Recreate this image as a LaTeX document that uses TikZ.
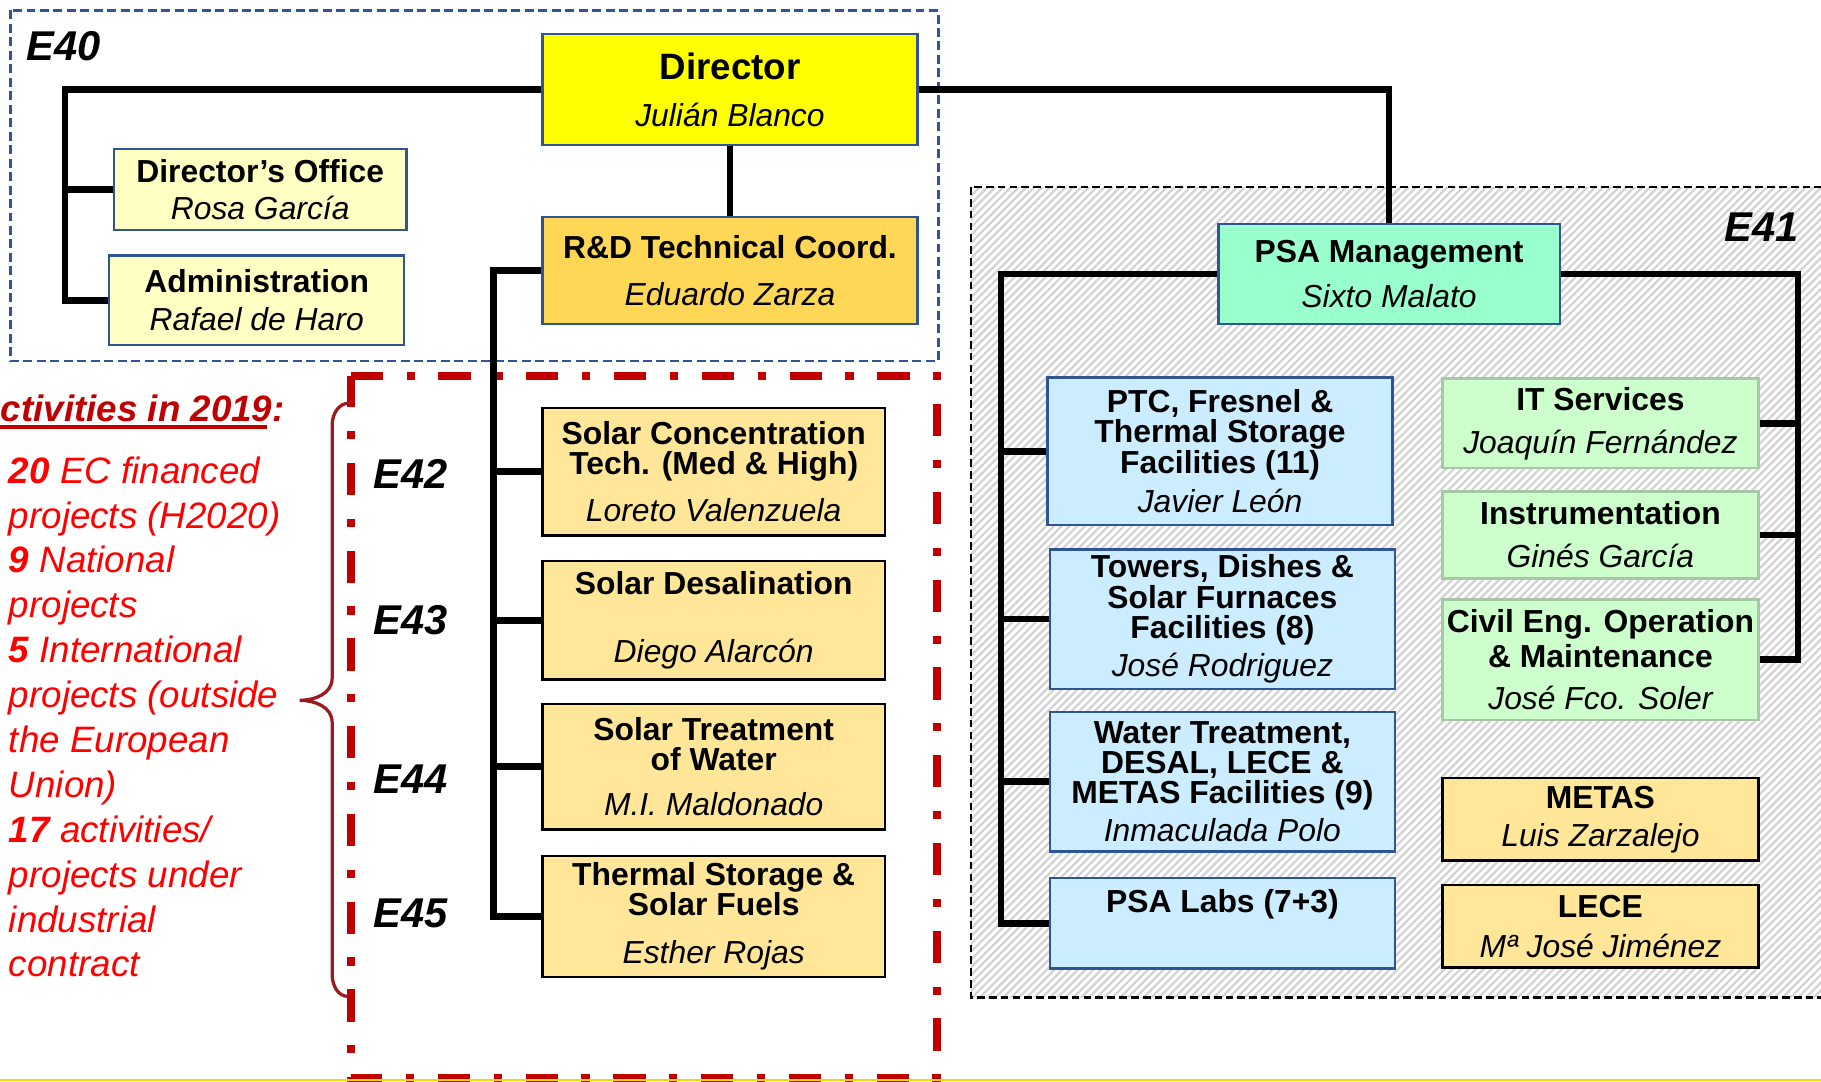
\documentclass[tikz,border=0pt]{standalone}
\usepackage{fontspec}
\setmainfont{Liberation Sans}
\usepackage{xcolor}
\usepackage{tikz}
\usetikzlibrary{calc, patterns.meta}

\definecolor{dirfill}{HTML}{FFFF00}
\definecolor{officefill}{HTML}{FFFFC4}
\definecolor{coordfill}{HTML}{FFD757}
\definecolor{mgmtfill}{HTML}{99FFCC}
\definecolor{unitfill}{HTML}{FFE699}
\definecolor{facfill}{HTML}{CCECFF}
\definecolor{servfill}{HTML}{CCFFCC}
\definecolor{servedge}{HTML}{A6C8A6}
\definecolor{frameblue}{HTML}{2F5597}
\definecolor{framered}{HTML}{C00000}
\definecolor{bracered}{HTML}{9B1C20}
\definecolor{bottomline}{HTML}{FFD600}

\newcommand{\staff}[1]{{\mdseries\itshape #1}}

\begin{document}
\begin{tikzpicture}[
    box/.style={draw=frameblue, line width=0.6pt, anchor=north west, align=center,
        inner sep=0pt, font=\fontsize{7.8}{7.4}\selectfont\bfseries},
    unitbox/.style={box, draw=black, fill=unitfill},
    facbox/.style={box, fill=facfill, minimum width=2.97cm},
    servbox/.style={box, draw=servedge, fill=servfill, minimum width=2.72cm},
    link/.style={line width=1.6pt},
    elabel/.style={anchor=base west, inner sep=0pt, font=\fontsize{10.2}{12}\selectfont\bfseries\itshape},
    actline/.style={anchor=base west, inner sep=0pt, text=red, font=\fontsize{9}{11}\selectfont\itshape}
]
    \useasboundingbox (0,0) rectangle (15.68,-9.31);
    \clip (0,0) rectangle (15.68,-9.31);

    % 1. Frames E40, E41 and the red one
    \draw[line width=0.6pt, dash pattern=on 1.9pt off 1.0pt,
        pattern={Lines[angle=45, distance=1.35pt, line width=0.55pt]}, pattern color=gray!35]
        (8.36,-1.61) rectangle (15.90,-8.59);
    \draw[frameblue, line width=0.6pt, dash pattern=on 2.2pt off 1.1pt]
        (0.09,-0.09) rectangle (8.08,-3.11);
    \draw[framered, line width=2pt, dash pattern=on 7.9pt off 5.8pt on 2pt off 5.8pt]
        (3.02,-3.24) -- (8.07,-3.24) -- (8.07,-9.28) -- (3.02,-9.28) -- cycle;
    \draw[bottomline, line width=0.4pt] (0,-9.30) -- (15.68,-9.30);

    \node[elabel] (e40) at (0.22,-0.525) {E40};
    \node[elabel] (e41) at (14.84,-2.075) {E41};
    \foreach \n/\y in {42/4.21, 43/5.46, 44/6.83, 45/7.99}
        \node[elabel] (e\n) at (3.21,-\y) {E\n};

    % 2. Activities in 2019
    \node[anchor=base west, inner sep=0pt, text=framered, font=\fontsize{9}{11}\selectfont\bfseries\itshape]
        (acttitle) at (0,-3.63) {ctivities in 2019:};
    \draw[framered, line width=0.8pt] ([yshift=-1.3pt]acttitle.base west) -- ++(2.30,0);
    \foreach \txt [count=\i] in {{\textbf{20} EC financed}, projects (H2020), {\textbf{9} National},
            projects, {\textbf{5} International}, projects (outside, the European, Union),
            {\textbf{17} activities/}, projects under, industrial, contract}
        \node[actline] (act\i) at (0.07,{-4.16-0.3865*(\i-1)}) {\txt};
    \draw[bracered, line width=0.8pt] (3.01,-3.47) to[out=180,in=90] (2.86,-3.66)
        -- (2.86,-5.84) to[out=-90,in=0] (2.58,-6.03) to[out=0,in=90] (2.86,-6.22)
        -- (2.86,-8.39) to[out=-90,in=180] (3.00,-8.58);

    % 3. Direction (E40)
    \node[box, fill=dirfill, minimum width=3.23cm, minimum height=0.96cm] (director) at (4.66,-0.28)
        {{\fontsize{9}{7.4}\selectfont Director}\\[4.1pt]\staff{Julián Blanco}};
    \node[box, fill=officefill, minimum width=2.52cm, minimum height=0.70cm] (office) at (0.97,-1.27)
        {Director’s Office\\[1.7pt]\staff{Rosa García}};
    \node[box, fill=officefill, minimum width=2.54cm, minimum height=0.77cm] (admin) at (0.93,-2.19)
        {Administration\\[2pt]\staff{Rafael de Haro}};
    \node[box, fill=coordfill, minimum width=3.23cm, minimum height=0.92cm] (coord) at (4.66,-1.86)
        {R\&D Technical Coord.\\[4pt]\staff{Eduardo Zarza}};

    % 4. R&D units (E42 - E45)
    \node[unitbox, minimum width=2.95cm, minimum height=1.10cm] (solarconc) at (4.66,-3.50)
        {Solar Concentration\\Tech. (Med \& High)\\[4.3pt]\staff{Loreto Valenzuela}};
    \node[unitbox, minimum width=2.95cm, minimum height=1.02cm] (desal) at (4.66,-4.82)
        {Solar Desalination\\[9.4pt]\staff{Diego Alarcón}};
    \node[unitbox, minimum width=2.95cm, minimum height=1.08cm] (treat) at (4.66,-6.05)
        {Solar Treatment\\of Water\\[3.7pt]\staff{M.I. Maldonado}};
    \node[unitbox, minimum width=2.95cm, minimum height=1.04cm] (storage) at (4.66,-7.36)
        {Thermal Storage \&\\Solar Fuels\\[4.3pt]\staff{Esther Rojas}};

    % 5. PSA management (E41)
    \node[box, fill=mgmtfill, minimum width=2.94cm, minimum height=0.86cm] (psa) at (10.48,-1.92)
        {PSA Management\\[3.7pt]\staff{Sixto Malato}};
    \node[facbox, minimum height=1.27cm] (ptc) at (9.01,-3.24)
        {PTC, Fresnel \&\\Thermal Storage\\Facilities (11)\\[2.3pt]\staff{Javier León}};
    \node[facbox, minimum height=1.20cm] (towers) at (9.03,-4.72)
        {Towers, Dishes \&\\Solar Furnaces\\Facilities (8)\\[2pt]\staff{José Rodriguez}};
    \node[facbox, minimum height=1.20cm] (water) at (9.03,-6.12)
        {Water Treatment,\\DESAL, LECE \&\\METAS Facilities (9)\\[2pt]\staff{Inmaculada Polo}};
    \node[facbox, minimum height=0.78cm, text height=0.30cm, text depth=0.48cm] (labs) at (9.03,-7.55)
        {PSA Labs (7+3)};
    \node[servbox, minimum height=0.77cm] (itserv) at (12.41,-3.25)
        {IT Services\\[3.1pt]\staff{Joaquín Fernández}};
    \node[servbox, minimum height=0.75cm] (instr) at (12.41,-4.22)
        {Instrumentation\\[3.1pt]\staff{Ginés García}};
    \node[servbox, minimum height=1.04cm] (civil) at (12.41,-5.15)
        {Civil Eng. Operation\\[1.1pt]\& Maintenance\\[2.8pt]\staff{José Fco. Soler}};
    \node[unitbox, minimum width=2.72cm, minimum height=0.71cm] (metas) at (12.41,-6.69)
        {METAS\\[2pt]\staff{Luis Zarzalejo}};
    \node[unitbox, minimum width=2.72cm, minimum height=0.71cm] (lece) at (12.41,-7.61)
        {LECE\\[2.3pt]\staff{Mª José Jiménez}};

    % 6. Connectors
    \coordinate (lspine) at (0.56,-0.76);
    \coordinate (cspine) at (4.25,-2.32);
    \coordinate (pspine) at (8.62,-2.35);
    \coordinate (rspine) at (15.48,-2.35);
    \draw[link] (director.west) -| (lspine |- admin.west) -- (admin.west);
    \draw[link] (lspine |- office.west) -- (office.west);
    \draw[link] (director.south) -- (coord.north);
    \draw[link] (director.east) -| (psa.north);
    \draw[link] (coord.west) -| (cspine |- storage.west) -- (storage.west);
    \foreach \u in {solarconc, desal, treat}
        \draw[link] (cspine |- \u.west) -- (\u.west);
    \draw[link] (psa.west) -| (pspine |- labs.west) -- (labs.west);
    \foreach \u in {ptc, towers, water}
        \draw[link] (pspine |- \u.west) -- (\u.west);
    \draw[link] (psa.east) -| (rspine |- civil.east) -- (civil.east);
    \foreach \u in {itserv, instr}
        \draw[link] (rspine |- \u.east) -- (\u.east);
\end{tikzpicture}
\end{document}
